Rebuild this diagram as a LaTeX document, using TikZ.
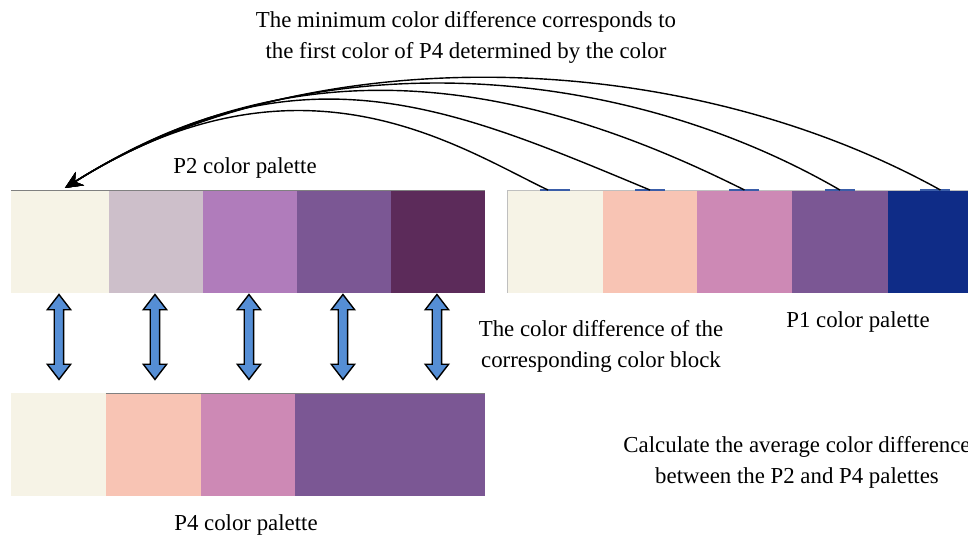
\documentclass[tikz,border=0pt]{standalone}
\usepackage{fontspec}
\setmainfont{Liberation Serif}
\usepackage{tikz}
\usetikzlibrary{shapes.arrows,arrows.meta,positioning,calc}
\definecolor{palcream}{RGB}{246, 243, 230}
\definecolor{palmauve}{RGB}{205, 191, 202}
\definecolor{palorchid}{RGB}{176, 124, 187}
\definecolor{palpurple}{RGB}{123, 87, 148}
\definecolor{palplum}{RGB}{92, 43, 90}
\definecolor{palpeach}{RGB}{248, 196, 180}
\definecolor{palpink}{RGB}{205, 137, 181}
\definecolor{palnavy}{RGB}{15, 44, 135}
\definecolor{arrowblue}{RGB}{85, 142, 213}
\definecolor{markblue}{RGB}{58, 93, 168}

\begin{document}
\begin{tikzpicture}[
    x=0.02cm,
    y=0.02cm,
    font=\fontsize{13}{17.6}\selectfont,
    swatch/.style={rectangle, inner sep=0pt, outer sep=0pt, minimum height=2.06cm},
    dblarrow/.style={double arrow, draw=black, fill=arrowblue, line width=0.8pt,
        rotate=90, inner xsep=0pt, inner ysep=0.08cm, minimum height=1.7cm,
        double arrow head extend=0.14cm, double arrow tip angle=75},
    match/.style={line width=0.8pt, -{Stealth[length=10pt,width=9pt]}}
]
    \clip (0,0) rectangle (968,-537);

    % P2 palette
    \node[swatch, anchor=north west, fill=palcream, minimum width=1.96cm] (p2a) at (11,-190) {};
    \node[swatch, fill=palmauve, minimum width=1.88cm, right=0pt of p2a] (p2b) {};
    \node[swatch, fill=palorchid, minimum width=1.88cm, right=0pt of p2b] (p2c) {};
    \node[swatch, fill=palpurple, minimum width=1.88cm, right=0pt of p2c] (p2d) {};
    \node[swatch, fill=palplum, minimum width=1.88cm, right=0pt of p2d] (p2e) {};
    \draw[gray] (p2a.north west) -- (p2e.north east);
    \node (p2lab) at (245,-168) {P2 color palette};

    % P1 palette
    \node[swatch, anchor=north west, fill=palcream, minimum width=1.92cm] (p1a) at (507,-190) {};
    \node[swatch, fill=palpeach, minimum width=1.88cm, right=0pt of p1a] (p1b) {};
    \node[swatch, fill=palpink, minimum width=1.9cm, right=0pt of p1b] (p1c) {};
    \node[swatch, fill=palpurple, minimum width=1.92cm, right=0pt of p1c] (p1d) {};
    \node[swatch, fill=palnavy, minimum width=1.9cm, right=0pt of p1d] (p1e) {};
    \draw[gray!50] (p1a.south west) -- (p1a.north west) -- (p1e.north east);
    \node (p1lab) at (858,-322) {P1 color palette};

    % P4 palette
    \node[swatch, anchor=north west, fill=palcream, minimum width=1.9cm] (p4a) at (11,-393) {};
    \node[swatch, fill=palpeach, minimum width=1.9cm, right=0pt of p4a] (p4b) {};
    \node[swatch, fill=palpink, minimum width=1.88cm, right=0pt of p4b] (p4c) {};
    \node[swatch, fill=palpurple, minimum width=3.8cm, right=0pt of p4c] (p4d) {};
    \draw[gray] (p4b.north west) -- (p4d.north east);
    \node (p4lab) at (246,-525) {P4 color palette};

    % Matching arcs from P1 to the first color of P2
    \foreach \blk in {p1a,p1b,p1c,p1d,p1e}
        \draw[markblue, line width=1.5pt] ($(\blk.north)+(-15,0)$) -- ($(\blk.north)+(15,0)$);
    \coordinate (tip) at ($(p2a.north)+(5,2)$);
    \draw[match] ($(p1e.north)+(5,0)$) .. controls (673,-42) and (300,-40) .. (tip);
    \draw[match] (p1d.north) .. controls (612,-58) and (300,-40) .. (tip);
    \draw[match] (p1c.north) .. controls (523,-79) and (300,-40) .. (tip);
    \draw[match] (p1b.north) .. controls (448,-106) and (300,-40) .. (tip);
    \draw[match] ($(p1a.north)+(-7,0)$) .. controls (456,-146) and (300,-40) .. (tip);
    \node[align=center] (minlab) at (466,-37) {The minimum color difference corresponds to\\the first color of P4 determined by the color};

    % Block to block differences
    \foreach \blk in {p2a,p2b,p2c,p2d,p2e}
        \node[dblarrow] (\blk-dif) at ($(\blk.south)+(-1,-44)$) {};
    \node[align=center] (diflab) at (601,-346) {The color difference of the\\corresponding color block};

    \node[align=center] (avglab) at (797,-462) {Calculate the average color difference\\between the P2 and P4 palettes};
\end{tikzpicture}
\end{document}
